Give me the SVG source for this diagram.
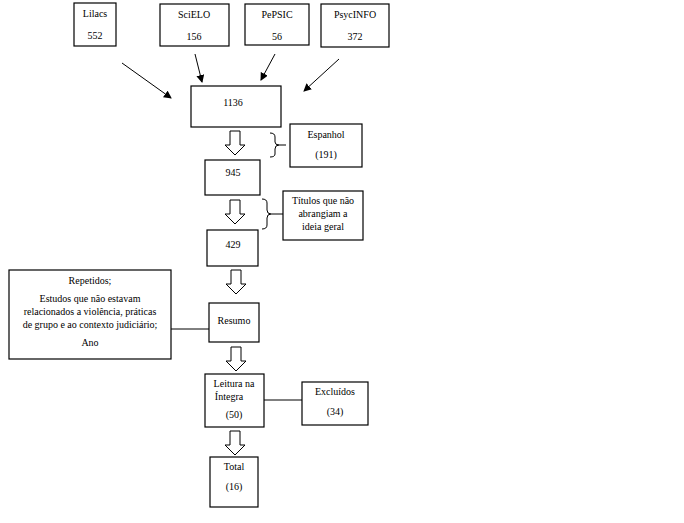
<svg xmlns="http://www.w3.org/2000/svg" width="684" height="523" viewBox="0 0 684 523">
<defs>
<marker id="ah" markerWidth="8" markerHeight="8" refX="7" refY="4" orient="auto" markerUnits="userSpaceOnUse"><path d="M0,0 L8,4 L0,8 Z" fill="#000"/></marker>
<path id="ha" d="M-5,0 H5 V14 H10 L0,24 L-10,14 H-5 Z" fill="#fff" stroke="#000" stroke-width="1"/>
</defs>
<style>
rect{fill:#fff;stroke:#000;stroke-width:1.2}
text{font-family:"Liberation Serif",serif;font-size:10px;fill:#000;text-anchor:middle}
.c line,.c path{stroke:#000;stroke-width:1;fill:none}
</style>
<rect x="0" y="0" width="684" height="523" style="stroke:none"/>
<g id="lilacs"><rect x="74" y="3" width="42" height="43"/><text x="95" y="17">Lilacs</text><text x="95" y="39">552</text></g>
<g id="scielo"><rect x="160" y="4" width="69" height="42"/><text x="194" y="18">SciELO</text><text x="194" y="40">156</text></g>
<g id="pepsic"><rect x="245" y="4" width="64" height="41"/><text x="277" y="18">PePSIC</text><text x="277" y="40">56</text></g>
<g id="psycinfo"><rect x="321" y="4" width="68" height="43"/><text x="355" y="18">PsycINFO</text><text x="355" y="40">372</text></g>
<g id="n1136"><rect x="191" y="86" width="90" height="41"/><text x="233" y="106">1136</text></g>
<g id="espanhol"><rect x="290" y="124" width="72" height="43"/><text x="326" y="138">Espanhol</text><text x="326" y="158">(191)</text></g>
<g id="n945"><rect x="205" y="160" width="55" height="35"/><text x="233" y="176">945</text></g>
<g id="titulos"><rect x="283" y="191" width="80" height="49"/><text x="323" y="204">Títulos que não</text><text x="323" y="217">abrangiam a</text><text x="323" y="230">ideia geral</text></g>
<g id="n429"><rect x="207" y="230" width="51" height="36"/><text x="233" y="248">429</text></g>
<g id="repetidos"><rect x="9" y="270" width="162" height="89"/><text x="90" y="284">Repetidos;</text><text x="90" y="302">Estudos que não estavam</text><text x="90" y="315">relacionados a violência, práticas</text><text x="90" y="328">de grupo e ao contexto judiciário;</text><text x="90" y="346">Ano</text></g>
<g id="resumo"><rect x="209" y="303" width="50" height="39"/><text x="234" y="324">Resumo</text></g>
<g id="leitura"><rect x="205" y="374" width="59" height="53"/><text x="234" y="387">Leitura na</text><text x="229" y="400">Íntegra</text><text x="234" y="418">(50)</text></g>
<g id="excluidos"><rect x="302" y="382" width="66" height="43"/><text x="335" y="395">Excluídos</text><text x="335" y="415">(34)</text></g>
<g id="total"><rect x="210" y="457" width="48" height="50"/><text x="234" y="470">Total</text><text x="234" y="490">(16)</text></g>
<g id="connectors" class="c">
<line x1="122" y1="63" x2="171" y2="98" marker-end="url(#ah)"/>
<line x1="195" y1="54" x2="202" y2="82" marker-end="url(#ah)"/>
<line x1="275" y1="54" x2="261" y2="80" marker-end="url(#ah)"/>
<line x1="339" y1="59" x2="304" y2="91" marker-end="url(#ah)"/>
<use href="#ha" x="235" y="131"/>
<use href="#ha" x="235" y="200"/>
<use href="#ha" x="236" y="270"/>
<use href="#ha" x="236" y="347"/>
<use href="#ha" x="235" y="431"/>
<path d="M270,133 Q275,133 275,137 V142 Q275,145 279,145 Q275,145 275,149 V154 Q275,157 270,157"/>
<line x1="279" y1="145" x2="286" y2="145"/>
<path d="M262,199 Q267,199 267,203 V210 Q267,214 271,214 Q267,214 267,218 V225 Q267,229 262,229"/>
<line x1="271" y1="214" x2="283" y2="214"/>
<line x1="171" y1="329" x2="209" y2="329"/>
<line x1="264" y1="400" x2="302" y2="400"/>
</g>
</svg>
